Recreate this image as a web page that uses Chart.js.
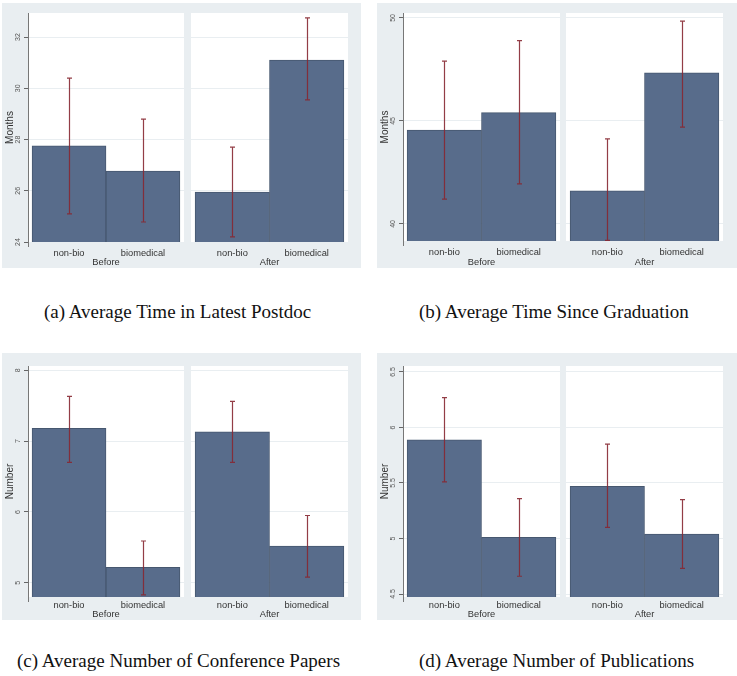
<!DOCTYPE html>
<html>
<head>
<meta charset="utf-8">
<script src="https://cdn.jsdelivr.net/npm/chart.js@4.4.0/dist/chart.umd.min.js"></script>
<style>
  body { margin: 0; background: #fff; width: 737px; height: 676px; position: relative; overflow: hidden; }
  .panel { position: absolute; background: #e9eef1; }
  .panel canvas { position: absolute; top: 0; }
  .caption { position: absolute; font-family: "Liberation Serif", "Times New Roman", serif; font-size: 19px; line-height: 1; color: #111; white-space: nowrap; }
</style>
</head>
<body>
<script>
const categories = ['non-bio', 'biomedical'];
const periods = ['Before', 'After'];

// (a) time in latest postdoc (months)
const postdocBefore = [27.75, 26.77];
const postdocAfter = [25.95, 31.1];
const postdocCiBefore = [[25.1, 30.4], [24.78, 28.8]];
const postdocCiAfter = [[24.2, 27.7], [29.55, 32.75]];
const postdocTicks = [24, 26, 28, 30, 32];

// (b) time since graduation (months)
const gradBefore = [44.56, 45.4];
const gradAfter = [41.6, 47.33];
const gradCiBefore = [[41.2, 47.9], [41.94, 48.9]];
const gradCiAfter = [[39.2, 44.13], [44.7, 49.85]];
const gradTicks = [40, 45, 50];

// (c) conference papers (number)
const confBefore = [7.18, 5.22];
const confAfter = [7.13, 5.52];
const confCiBefore = [[6.7, 7.63], [4.83, 5.59]];
const confCiAfter = [[6.7, 7.56], [5.08, 5.95]];
const confTicks = [5, 6, 7, 8];

// (d) publications (number)
const pubsBefore = [5.89, 5.01];
const pubsAfter = [5.47, 5.04];
const pubsCiBefore = [[5.51, 6.27], [4.66, 5.36]];
const pubsCiAfter = [[5.1, 5.85], [4.73, 5.35]];
const pubsTicks = [4.5, 5, 5.5, 6, 6.5];

const BAR_COLOR = '#586c8b';
const CI_COLOR = 'rgba(135, 40, 50, 0.9)';
const SANS = '"Liberation Sans", Arial, sans-serif';

// layout of the 4 panels (px)
const panels = [
  { box: [2, 3, 359, 265], split: 185, yw: 26, right0: 3, left1: 4, right1: 13, top: 10, xh: 26, pad: 6,
    min: 24, max: 32.94, ticks: postdocTicks, yTitle: 'Months',
    values: [postdocBefore, postdocAfter], ci: [postdocCiBefore, postdocCiAfter],
    caption: '(a) Average Time in Latest Postdoc', cap: [44, 302] },
  { box: [377, 3, 360, 265], split: 186, yw: 26, right0: 3, left1: 3, right1: 14, top: 10, xh: 27, pad: 6,
    min: 39.17, max: 50.24, ticks: gradTicks, yTitle: 'Months',
    values: [gradBefore, gradAfter], ci: [gradCiBefore, gradCiAfter],
    caption: '(b) Average Time Since Graduation', cap: [419, 302] },
  { box: [2, 353, 359, 267], split: 185, yw: 26, right0: 3, left1: 4, right1: 13, top: 13, xh: 23, pad: 3,
    min: 4.8, max: 8.06, ticks: confTicks, yTitle: 'Number',
    values: [confBefore, confAfter], ci: [confCiBefore, confCiAfter],
    caption: '(c) Average Number of Conference Papers', cap: [17, 651] },
  { box: [377, 353, 360, 267], split: 186, yw: 26, right0: 3, left1: 3, right1: 14, top: 13, xh: 23, pad: 3,
    min: 4.473, max: 6.554, ticks: pubsTicks, yTitle: 'Number',
    values: [pubsBefore, pubsAfter], ci: [pubsCiBefore, pubsCiAfter],
    caption: '(d) Average Number of Publications', cap: [419, 651] }
];

const plotBackground = {
  id: 'plotBackground',
  beforeDraw(chart) {
    const { ctx, chartArea: a } = chart;
    ctx.save();
    ctx.fillStyle = '#ffffff';
    ctx.fillRect(a.left, a.top, a.right - a.left, a.bottom - a.top);
    ctx.restore();
  }
};

const errorBars = {
  id: 'errorBars',
  afterDatasetsDraw(chart, args, opts) {
    const meta = chart.getDatasetMeta(0);
    const y = chart.scales.y;
    const ctx = chart.ctx;
    ctx.save();
    ctx.strokeStyle = CI_COLOR;
    ctx.lineWidth = 1.2;
    meta.data.forEach((bar, i) => {
      const [lo, hi] = opts.ci[i];
      const x = Math.round(bar.x) + 0.5;
      const y1 = y.getPixelForValue(lo);
      const y2 = y.getPixelForValue(hi);
      ctx.beginPath();
      ctx.moveTo(x, y1); ctx.lineTo(x, y2);
      ctx.moveTo(x - 2.5, y1); ctx.lineTo(x + 2.5, y1);
      ctx.moveTo(x - 2.5, y2); ctx.lineTo(x + 2.5, y2);
      ctx.stroke();
    });
    ctx.restore();
  }
};

// Stata-style vertical tick labels on the y axis
const rotatedTicks = {
  id: 'rotatedTicks',
  afterDraw(chart, args, opts) {
    if (!opts.show) return;
    const { ctx, chartArea: a } = chart;
    const y = chart.scales.y;
    ctx.save();
    ctx.fillStyle = '#555';
    ctx.font = '7px ' + SANS;
    ctx.textAlign = 'center';
    ctx.textBaseline = 'middle';
    y.ticks.forEach(t => {
      ctx.save();
      ctx.translate(a.left - 9.5, y.getPixelForValue(t.value));
      ctx.rotate(-Math.PI / 2);
      ctx.fillText(String(t.value), 0, 0);
      ctx.restore();
    });
    // axis line runs a little past the plot region
    const x = Math.round(a.left - 0.5) + 0.5;
    ctx.strokeStyle = '#777';
    ctx.lineWidth = 1;
    ctx.beginPath();
    ctx.moveTo(x, a.bottom);
    ctx.lineTo(x, a.bottom + 5);
    ctx.stroke();
    ctx.restore();
  }
};

function makeChart(panelEl, p, idx) {
  const canvas = document.createElement('canvas');
  const w = idx === 0 ? p.split : p.box[2] - p.split;
  canvas.width = w;
  canvas.height = p.box[3];
  canvas.style.left = (idx === 0 ? 0 : p.split) + 'px';
  panelEl.appendChild(canvas);

  const first = idx === 0;
  new Chart(canvas.getContext('2d'), {
    type: 'bar',
    data: {
      datasets: [{
        data: p.values[idx].map((v, i) => ({ x: i, y: v })),
        backgroundColor: BAR_COLOR,
        borderColor: '#46576f',
        borderWidth: 1,
        barPercentage: 1,
        categoryPercentage: 1
      }]
    },
    options: {
      responsive: false,
      animation: false,
      devicePixelRatio: 1,
      layout: {
        padding: {
          top: p.top,
          bottom: 0,
          left: first ? 0 : p.left1,
          right: first ? p.right0 : p.right1
        }
      },
      plugins: {
        legend: { display: false },
        tooltip: { enabled: false },
        errorBars: { ci: p.ci[idx] },
        rotatedTicks: { show: first }
      },
      scales: {
        x: {
          type: 'linear',
          offset: false,
          min: -0.555,
          max: 1.555,
          afterBuildTicks(scale) { scale.ticks = categories.map((c, i) => ({ value: i })); },
          grid: { display: false, drawTicks: false, offset: false },
          border: { display: false },
          ticks: {
            color: '#333',
            padding: p.pad,
            maxRotation: 0,
            callback: v => categories[v],
            font: { family: SANS, size: 9.3 }
          },
          title: {
            display: true,
            text: periods[idx],
            color: '#333',
            padding: 0,
            font: { family: SANS, size: 9.3 }
          },
          afterFit(scale) { scale.height = p.xh; }
        },
        y: {
          min: p.min,
          max: p.max,
          afterBuildTicks(scale) { scale.ticks = p.ticks.map(v => ({ value: v })); },
          ticks: { display: false },
          grid: {
            color: '#e9eef1',
            tickColor: '#666',
            tickLength: 4,
            drawTicks: first
          },
          border: { display: first, color: '#777', width: 1 },
          title: {
            display: first,
            text: p.yTitle,
            color: '#333',
            padding: { top: 2, bottom: 0 },
            font: { family: SANS, size: 10 }
          },
          afterFit(scale) { scale.width = first ? p.yw : 0; }
        }
      }
    },
    plugins: [plotBackground, errorBars, rotatedTicks]
  });
}

panels.forEach(p => {
  const panelEl = document.createElement('div');
  panelEl.className = 'panel';
  panelEl.style.left = p.box[0] + 'px';
  panelEl.style.top = p.box[1] + 'px';
  panelEl.style.width = p.box[2] + 'px';
  panelEl.style.height = p.box[3] + 'px';
  document.body.appendChild(panelEl);
  makeChart(panelEl, p, 0);
  makeChart(panelEl, p, 1);

  const cap = document.createElement('div');
  cap.className = 'caption';
  cap.textContent = p.caption;
  cap.style.left = p.cap[0] + 'px';
  cap.style.top = p.cap[1] + 'px';
  document.body.appendChild(cap);
});
</script>
</body>
</html>
